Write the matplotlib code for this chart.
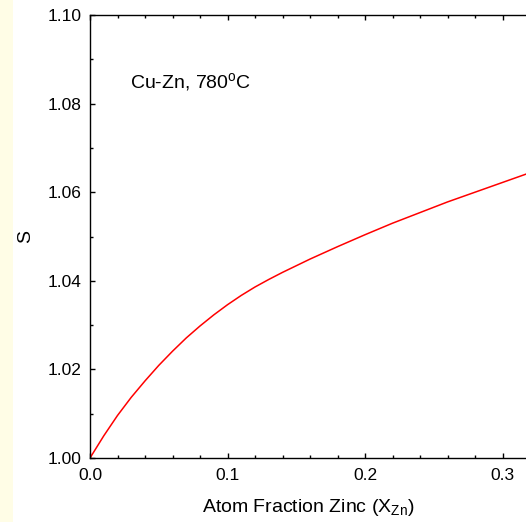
import numpy as np
import matplotlib
matplotlib.use('Agg')
import matplotlib.pyplot as plt
from matplotlib.ticker import MultipleLocator
from matplotlib.patches import Rectangle

# valores
x_zn = [0.00, 0.01, 0.02, 0.03, 0.04, 0.05, 0.06, 0.07, 0.08, 0.09, 0.10,
        0.11, 0.12, 0.13, 0.14, 0.16, 0.18, 0.20, 0.22, 0.24, 0.26, 0.28,
        0.30, 0.32]
s_val = [1.0000, 1.0050, 1.0096, 1.0137, 1.0174, 1.0209, 1.0241, 1.0271,
         1.0298, 1.0323, 1.0346, 1.0367, 1.0386, 1.0403, 1.0419, 1.0449,
         1.0477, 1.0504, 1.0530, 1.0554, 1.0578, 1.0600, 1.0622, 1.0644]
titulo = 'Cu-Zn, 780$^{\\mathrm{o}}$C'

plt.rcParams['font.family'] = ['Liberation Sans', 'DejaVu Sans']
plt.rcParams['mathtext.fontset'] = 'custom'
plt.rcParams['mathtext.rm'] = 'Liberation Sans'
plt.rcParams['mathtext.it'] = 'Liberation Sans'

fig = plt.figure(figsize=(5.26, 5.22), dpi=100)
# faixa amarela na esquerda
fig.patches.append(Rectangle((0, 0), 13 / 526, 1, transform=fig.transFigure,
                             facecolor='#fffde6', edgecolor='none', zorder=0))

ax = fig.add_axes([90 / 526, 64 / 522, 436 / 526, 443 / 522])
ax.plot(x_zn, s_val, color='red', lw=1.1)

ax.set_xlim(0, 436 / 1375)
ax.set_ylim(1.00, 1.10)
ax.xaxis.set_major_locator(MultipleLocator(0.1))
ax.xaxis.set_minor_locator(MultipleLocator(0.02))
ax.yaxis.set_major_locator(MultipleLocator(0.02))
ax.yaxis.set_minor_locator(MultipleLocator(0.01))
ax.xaxis.set_major_formatter(plt.FuncFormatter(lambda v, p: f'{v:.1f}'))
ax.yaxis.set_major_formatter(plt.FuncFormatter(lambda v, p: f'{v:.2f}'))

ax.tick_params(which='both', direction='in', top=True, right=False, width=1.0)
ax.tick_params(which='major', length=3.8, labelsize=12.5)
ax.tick_params(which='minor', length=2.3)
ax.tick_params(axis='x', which='major', pad=7)
ax.tick_params(axis='y', which='major', pad=6)
ax.spines['right'].set_visible(False)
for sp in ['left', 'bottom', 'top']:
    ax.spines[sp].set_linewidth(1.0)

ax.set_xlabel('Atom Fraction Zinc (X$_{\\mathrm{Zn}}$)', fontsize=14, labelpad=10)
ax.set_ylabel('S', fontsize=14, labelpad=10)
ax.text(40 / 436, 1.0837, titulo, transform=ax.get_yaxis_transform(), fontsize=14)

fig.savefig('out.png', dpi=100)
